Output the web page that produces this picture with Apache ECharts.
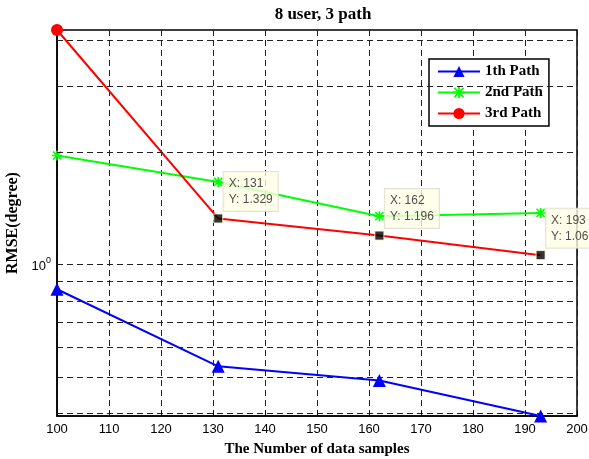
<!DOCTYPE html>
<html>
<head>
<meta charset="utf-8">
<script src="https://cdn.jsdelivr.net/npm/echarts@6/dist/echarts.min.js"></script>
<style>html,body{margin:0;padding:0;background:#fff}#c{width:589px;height:459px}</style>
</head>
<body>
<div id="c"></div>
<script>
var xValues = [100, 131, 162, 193];
var path1 = [0.859, 0.534, 0.489, 0.393];
var path2 = [1.96, 1.665, 1.348, 1.375];
var path3 = [4.25, 1.329, 1.196, 1.06];
var tipX = [131, 162, 193];
var tipY = [1.329, 1.196, 1.06];
var xTicks = [100, 110, 120, 130, 140, 150, 160, 170, 180, 190, 200];
var yGridValues = [0.4, 0.5, 0.6, 0.7, 0.8, 0.9, 1, 2, 3, 4];
var seriesNames = ['1th Path', '2nd Path', '3rd Path'];

var serif = '"Liberation Serif", "Times New Roman", serif';
var sans = '"Liberation Sans", Arial, sans-serif';
var gridDash = { color: '#222', width: 1, type: [6, 4] };
var asterisk = 'path://M0,4.2 L10,4.2 L10,5.8 L0,5.8 Z M4.2,0 L5.8,0 L5.8,10 L4.2,10 Z M1.5,0.4 L9.6,8.5 L8.5,9.6 L0.4,1.5 Z M8.5,0.4 L9.6,1.5 L1.5,9.6 L0.4,8.5 Z';

var chart = echarts.init(document.getElementById('c'), null, { renderer: 'canvas' });
chart.setOption({
  animation: false,
  backgroundColor: '#fff',
  title: {
    text: '8 user, 3 path', left: 318, top: 1, textAlign: 'center',
    textStyle: { fontFamily: serif, fontWeight: 'bold', fontSize: 17, color: '#000' }
  },
  grid: { left: 57, right: 12, top: 30, bottom: 43, containLabel: false, outerBoundsMode: 'none',
    show: true, borderColor: '#000', borderWidth: 1.5, backgroundColor: 'transparent' },
  legend: {
    left: 429, top: 59, orient: 'vertical',
    backgroundColor: '#fff', borderColor: '#000', borderWidth: 1.5,
    padding: [5, 6, 5, 8], itemGap: 6, itemWidth: 42, itemHeight: 14,
    data: seriesNames,
    textStyle: { fontFamily: serif, fontWeight: 'bold', fontSize: 15, color: '#000' }
  },
  xAxis: {
    type: 'value', min: xTicks[0], max: xTicks[xTicks.length - 1], interval: 10,
    name: 'The Number of data samples', nameLocation: 'middle', nameGap: 26,
    nameTextStyle: { fontFamily: serif, fontWeight: 'bold', fontSize: 15, color: '#000' },
    axisLine: { lineStyle: { color: '#000', width: 1.5 } },
    axisTick: { inside: true, length: 5, lineStyle: { color: '#000' } },
    axisLabel: { fontFamily: sans, fontSize: 13, color: '#000', margin: 7 },
    splitLine: { show: true, lineStyle: gridDash }
  },
  yAxis: {
    type: 'log', logBase: 10, min: 0.393, max: 4.25,
    name: 'RMSE(degree)', nameLocation: 'middle', nameGap: 36,
    nameTextStyle: { fontFamily: serif, fontWeight: 'bold', fontSize: 16, color: '#000' },
    axisLine: { show: true, lineStyle: { color: '#000', width: 1.5 } },
    axisTick: { show: false },
    splitLine: { show: false },
    axisLabel: {
      fontFamily: sans, fontSize: 13, color: '#000', margin: 6,
      formatter: function (v) { return Math.abs(v - 1) < 1e-6 ? '{b|10}{s|0}' : ''; },
      rich: {
        b: { fontFamily: sans, fontSize: 13, color: '#000', verticalAlign: 'bottom' },
        s: { fontFamily: sans, fontSize: 9, color: '#000', verticalAlign: 'top', padding: [0, 0, 8, 0] }
      }
    }
  },
  series: [
    {
      name: seriesNames[0], type: 'line', z: 3,
      data: xValues.map(function (x, i) { return [x, path1[i]]; }),
      symbol: 'triangle', symbolSize: 13, showAllSymbol: true,
      lineStyle: { color: '#0000ff', width: 2 }, itemStyle: { color: '#0000ff' },
      markLine: {
        silent: true, symbol: 'none', animation: false,
        label: { show: false }, lineStyle: gridDash,
        data: yGridValues.map(function (v) { return { yAxis: v }; })
      }
    },
    {
      name: seriesNames[1], type: 'line', z: 3,
      data: xValues.map(function (x, i) { return [x, path2[i]]; }),
      symbol: asterisk, symbolSize: 10,
      lineStyle: { color: '#00ff00', width: 2 }, itemStyle: { color: '#00ff00' }
    },
    {
      name: seriesNames[2], type: 'line', z: 4,
      data: xValues.map(function (x, i) { return { value: [x, path3[i]], symbol: i === 0 ? 'circle' : 'none' }; }),
      symbol: 'circle', symbolSize: 12,
      lineStyle: { color: '#ff0000', width: 2 }, itemStyle: { color: '#ff0000' }
    },
    {
      name: 'tips', type: 'scatter', z: 6,
      data: tipX.map(function (x, i) { return [x, tipY[i]]; }),
      symbol: 'rect', symbolSize: 9,
      itemStyle: { color: '#000', borderColor: '#ffffcc', borderWidth: 1 },
      label: {
        show: true, position: [10.5, -41.5], align: 'left', verticalAlign: 'top',
        formatter: function (p) { return 'X: ' + p.value[0] + '\nY: ' + p.value[1]; },
        fontFamily: sans, fontSize: 12, lineHeight: 16, color: '#222',
        backgroundColor: '#ffffe6', borderColor: '#dcdcc8', borderWidth: 1, padding: [4, 5, 3, 5]
      }
    }
  ]
});
</script>
</body>
</html>
